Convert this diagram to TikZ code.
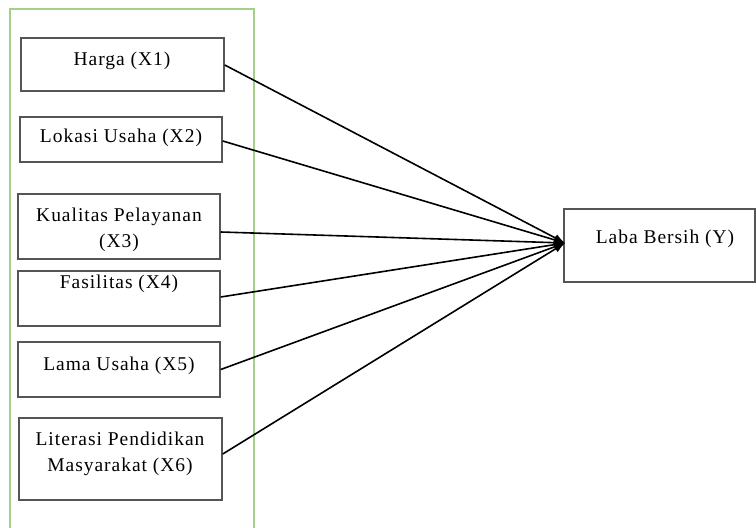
\documentclass[tikz,border=0pt]{standalone}
\usepackage{fontspec}
\setmainfont{Liberation Serif}[LetterSpace=5]
\usetikzlibrary{arrows.meta}
\definecolor{frameGreen}{HTML}{A3CF8A}
\definecolor{boxGray}{HTML}{555555}
\tikzset{
  box/.style={draw=boxGray, line width=1.5bp, rectangle, inner sep=0pt},
  lbl/.style={align=center, inner sep=0pt, font=\fontsize{19.5bp}{26.5bp}\selectfont},
  conn/.style={draw=black, line width=1.6bp, -{Latex[length=11bp,width=8bp]}}
}
\begin{document}
\begin{tikzpicture}[x=1bp,y=-1bp]
\useasboundingbox (0,0) rectangle (756,528);
\draw[frameGreen, line width=1.4bp] (10,560) -- (10,9) -- (254,9) -- (254,560);
% boxes
\node[box, minimum width=203bp, minimum height=53bp] (b1) at (122.5,64.5) {};
\node[box, minimum width=202bp, minimum height=45bp] (b2) at (121,139.5) {};
\node[box, minimum width=202bp, minimum height=65bp] (b3) at (119,226.5) {};
\node[box, minimum width=202bp, minimum height=55bp] (b4) at (119,298.5) {};
\node[box, minimum width=202bp, minimum height=55bp] (b5) at (119,369.5) {};
\node[box, minimum width=203bp, minimum height=82bp] (b6) at (120.5,459) {};
\node[box, minimum width=191bp, minimum height=73bp] (by) at (659.5,245.5) {};
% labels
\node[lbl] (t1) at (122,61) {Harga (X1)};
\node[lbl] (t2) at (121,138) {Lokasi Usaha (X2)};
\node[lbl] (t3) at (119,230) {Kualitas Pelayanan\\(X3)};
\node[lbl] (t4) at (119,284) {Fasilitas (X4)};
\node[lbl] (t5) at (119,366) {Lama Usaha (X5)};
\node[lbl] (t6) at (120,454) {Literasi Pendidikan\\Masyarakat (X6)};
\node[lbl] (ty) at (665,239) {Laba Bersih (Y)};
% connectors
\coordinate (tip) at (565,243);
\draw[conn] ([yshift=-0.5bp]b1.east) -- (tip);
\draw[conn] ([yshift=-1.5bp]b2.east) -- (tip);
\draw[conn] ([yshift=-5.5bp]b3.east) -- (tip);
\draw[conn] ([yshift=1.5bp]b4.east) -- (tip);
\draw[conn] (b5.east) -- (tip);
\draw[conn] ([yshift=5bp]b6.east) -- (tip);
\end{tikzpicture}
\end{document}
